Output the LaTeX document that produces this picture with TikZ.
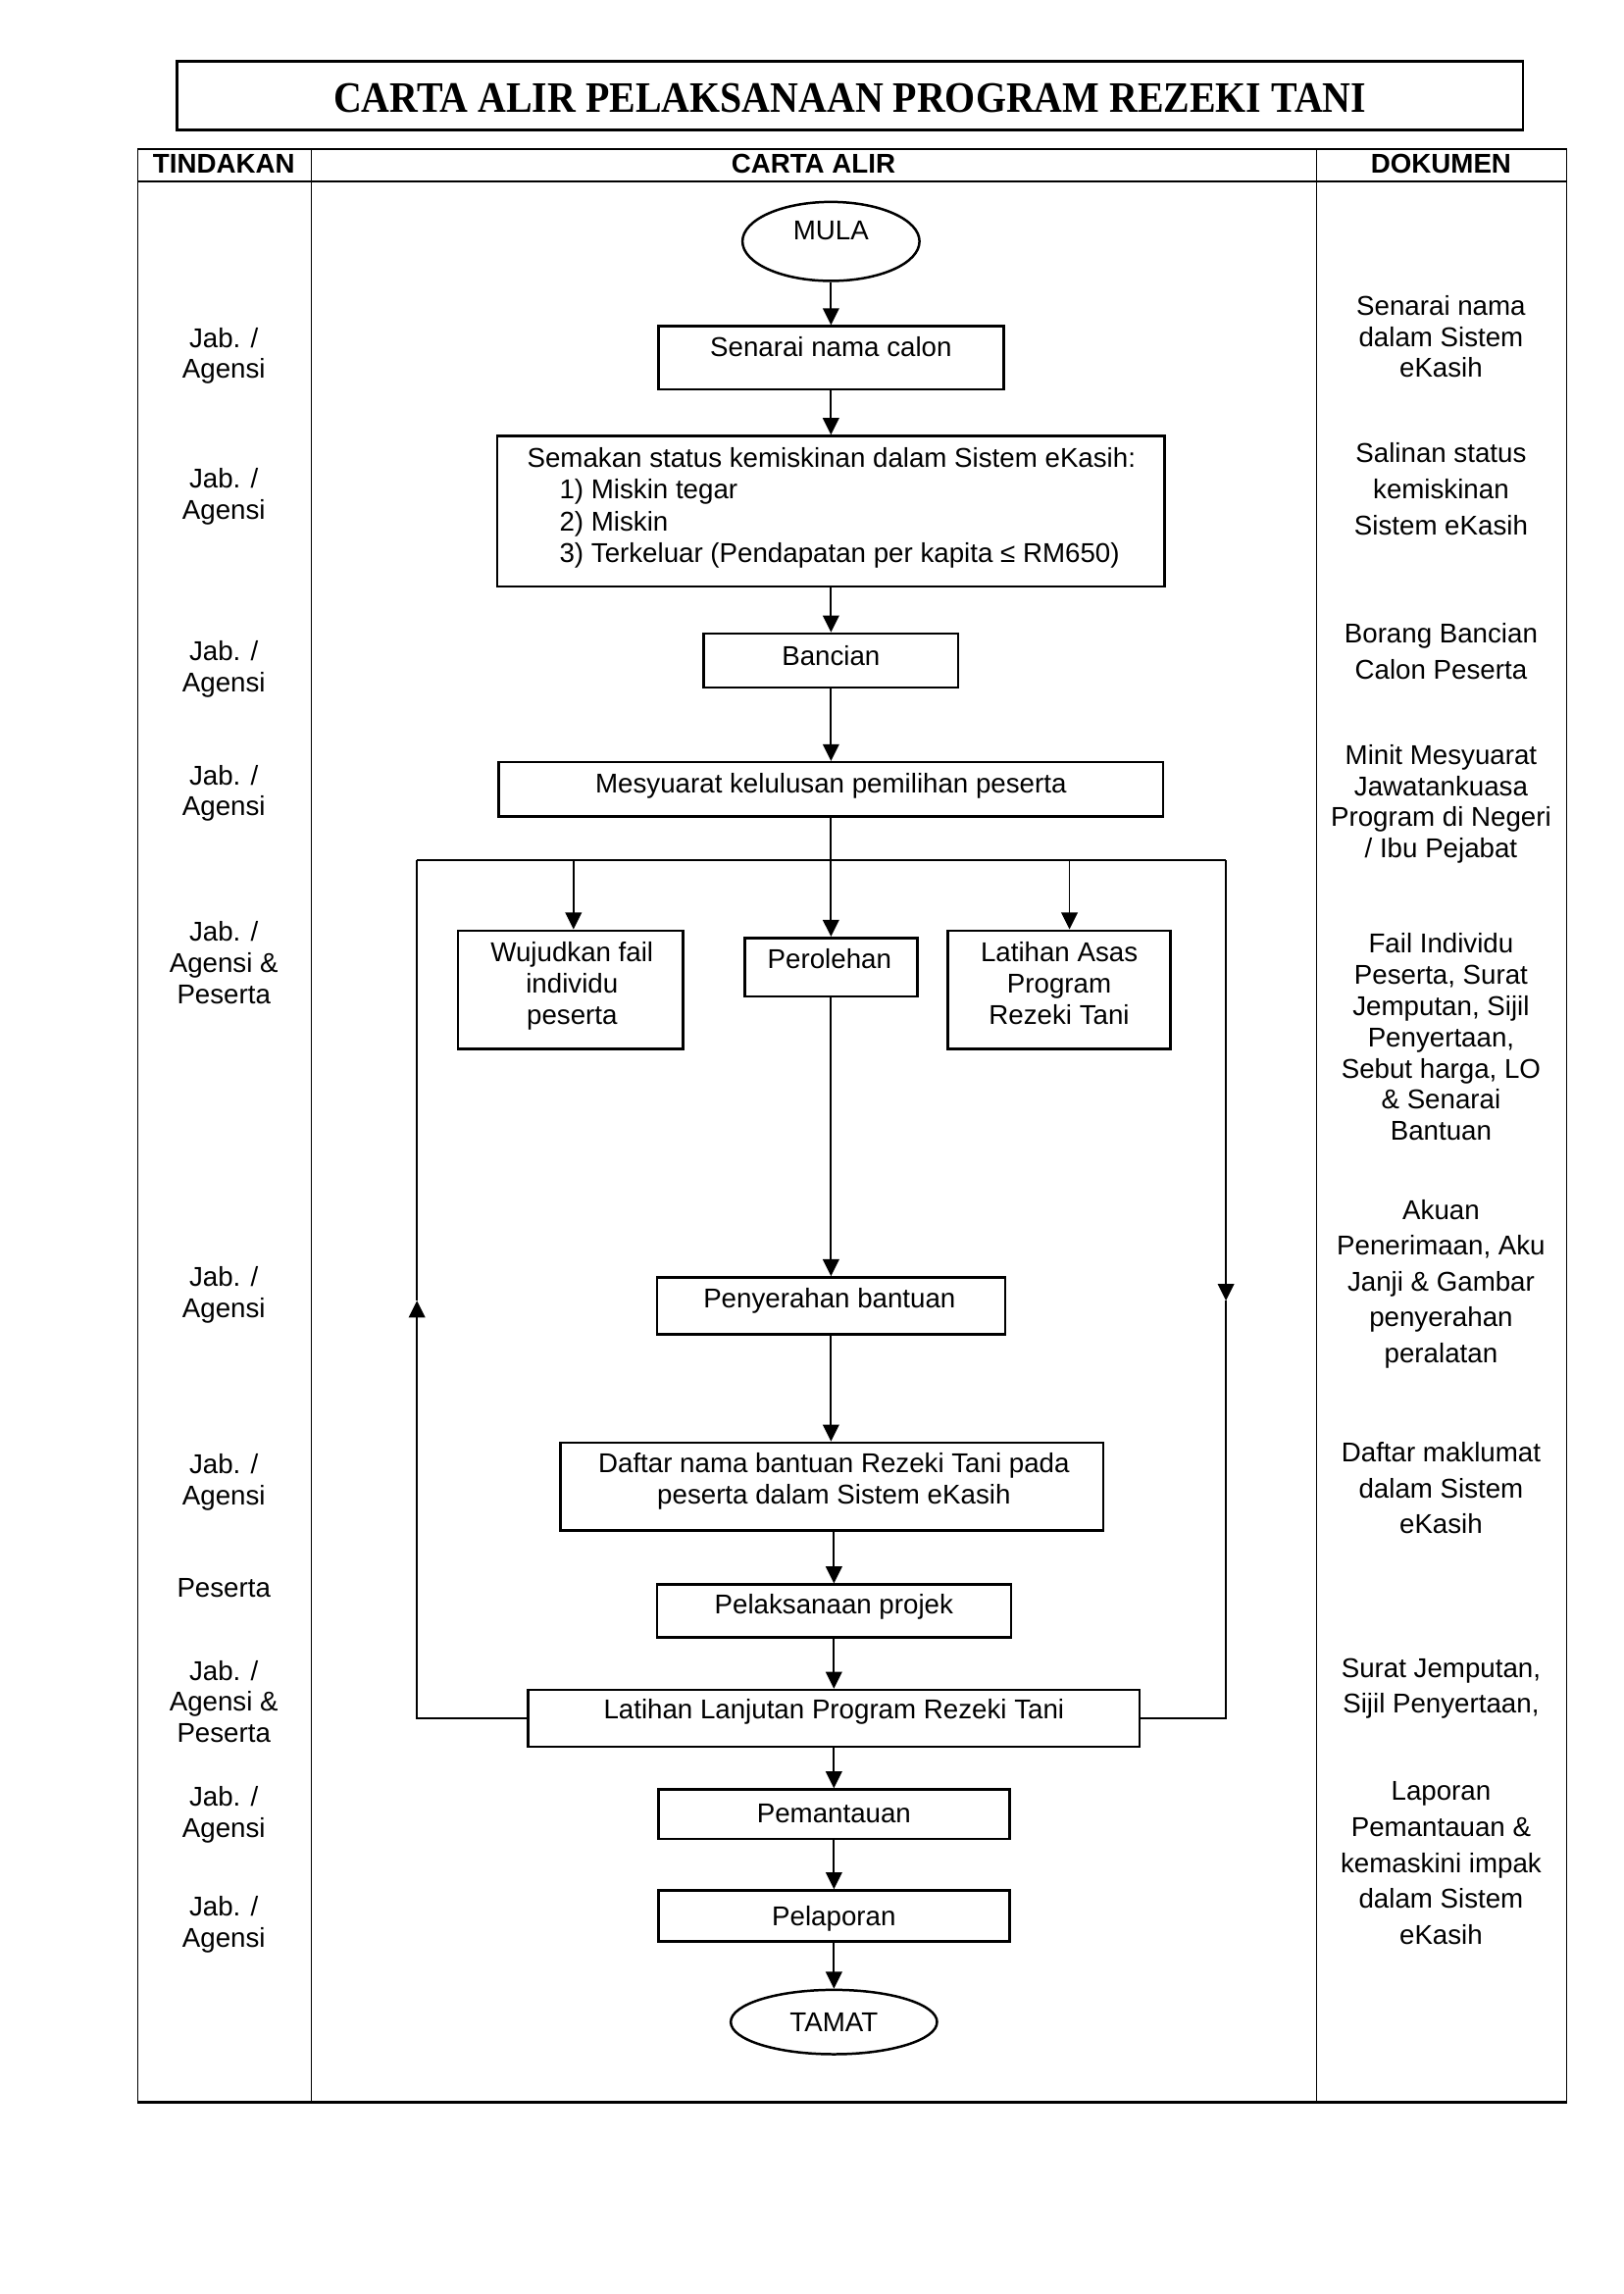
\documentclass[tikz,border=0pt]{standalone}
\usepackage{fontspec}
\usepackage{graphicx}
\setmainfont{Liberation Sans}
\newfontfamily\titlefont{Liberation Serif}
\usetikzlibrary{arrows.meta,shapes.geometric}
\def\upx{0.18929mm}
\def\vpx{0.18929mm}
\newcommand\bx[5]{\node[box,minimum width={(#4-#2)*\upx},minimum height={(#5-#3)*\vpx}] (#1) at ({(#2+#4)/2},{(#3+#5)/2}) {};}
\begin{document}
\begin{tikzpicture}[x=0.18929mm, y=-0.18929mm,
  box/.style={draw, line width=0.9pt, rectangle, inner sep=0pt},
  term/.style={draw, line width=0.9pt, ellipse, inner sep=0pt},
  lbl/.style={inner sep=0pt, anchor=base, font=\fontsize{10}{11.5}\selectfont},
  hdr/.style={inner sep=0pt, anchor=base, font=\bfseries\fontsize{10}{11.5}\selectfont},
  blk/.style={inner sep=0pt, align=center, anchor=north, font=\fontsize{10}{11.5}\selectfont},
  blkw/.style={blk, font=\fontsize{10}{13.2}\selectfont},
  conn/.style={line width=0.7pt},
  arr/.style={conn, -{Triangle[length=6.2pt,width=6pt]}},
  grid/.style={line width=0.5pt},
]
\useasboundingbox (0,0) rectangle (1109.4,1567.9);

% title
\draw[line width=1pt] (121,42) rectangle (1041,89);
\node[inner sep=0pt, anchor=base] (title) at (581,77)
  {\titlefont\bfseries\fontsize{16}{18}\selectfont\scalebox{0.9}[1]{CARTA ALIR PELAKSANAAN PROGRAM REZEKI TANI}};

% table
\draw[grid] (94,102) rectangle (1071,1437);
\draw[line width=1pt] (94,1437) -- (1071,1437);
\draw[grid] (94,124) -- (1071,124);
\draw[grid] (213,102) -- (213,1437);
\draw[grid] (900,102) -- (900,1437);
\node[hdr] (h1) at (153,118) {TINDAKAN};
\node[hdr] (h2) at (556,118) {CARTA ALIR};
\node[hdr] (h3) at (985,118) {DOKUMEN};

% flow nodes
\node[term, minimum width={121*\upx}, minimum height={54*\vpx}] (mula) at (568,165) {};
\node[lbl] (tmula) at (568,163.6) {MULA};
\bx{senarai}{450}{223}{686}{266}
\node[lbl] (tsenarai) at (568,244) {Senarai nama calon};
\bx{semakan}{340}{298}{796}{401}
\node[inner sep=0pt, anchor=north west, align=left, font=\fontsize{10}{11.7}\selectfont] (tsemakan) at (360,305.5)
  {Semakan status kemiskinan dalam Sistem eKasih:\\
   \hspace*{11.9pt}1) Miskin tegar\\
   \hspace*{11.9pt}2) Miskin\\
   \hspace*{11.9pt}3) Terkeluar (Pendapatan per kapita ≤ RM650)};
\bx{bancian}{481}{433}{655}{470}
\node[lbl] (tbancian) at (568,455) {Bancian};
\bx{mesy}{341}{521}{795}{558}
\node[lbl] (tmesy) at (568,542) {Mesyuarat kelulusan pemilihan peserta};
\bx{wuj}{313}{636}{467}{717}
\node[blk] (twuj) at (391,643.5) {Wujudkan fail\\individu\\peserta};
\bx{perol}{509}{641}{627}{681}
\node[lbl] (tperol) at (567,662) {Perolehan};
\bx{latasas}{648}{636}{800}{717}
\node[blk] (tlatasas) at (724,643.5) {Latihan Asas\\Program\\Rezeki Tani};
\bx{pen}{449}{873}{687}{912}
\node[lbl] (tpen) at (567,894) {Penyerahan bantuan};
\bx{daftar}{383}{986}{754}{1046}
\node[blk] (tdaftar) at (570,992.5) {Daftar nama bantuan Rezeki Tani pada\\peserta dalam Sistem eKasih};
\bx{pel}{449}{1083}{691}{1119}
\node[lbl] (tpel) at (570,1103) {Pelaksanaan projek};
\bx{lanj}{361}{1155}{779}{1194}
\node[lbl] (tlanj) at (570,1175) {Latihan Lanjutan Program Rezeki Tani};
\bx{pem}{450}{1223}{690}{1257}
\node[lbl] (tpem) at (570,1246) {Pemantauan};
\bx{plp}{450}{1292}{690}{1327}
\node[lbl] (tplp) at (570,1316) {Pelaporan};
\node[term, minimum width={141*\upx}, minimum height={44*\vpx}] (tamat) at (570,1382) {};
\node[lbl] (ttamat) at (570,1388.6) {TAMAT};

% connectors
\draw[arr] (mula.south) -- (senarai.north);
\draw[arr] (senarai.south) -- (semakan.north);
\draw[arr] (semakan.south) -- (bancian.north);
\draw[arr] (bancian.south) -- (mesy.north);
\draw[arr] (mesy.south) -- (perol.north);
\coordinate (hl) at (285,588);
\coordinate (hr) at (838,588);
\coordinate (bw) at (392,588);
\coordinate (be) at (731,588);
\draw[conn] (hl) -- (hr);
\draw[arr] (bw) -- (bw |- wuj.north);
\draw[arr] (be) -- (be |- latasas.north);
\draw[arr] (perol.south) -- (pen.north);
\draw[arr] (pen.south) -- (pen.south |- daftar.north);
\draw[arr] (daftar.south -| pel.north) -- (pel.north);
\draw[arr] (pel.south) -- (lanj.north);
\draw[arr] (lanj.south) -- (pem.north);
\draw[arr] (pem.south) -- (plp.north);
\draw[arr] (plp.south) -- (tamat.north);
\coordinate (lm) at (285,889);
\coordinate (rm) at (838,889);
\draw[arr] (lanj.west) -- (lanj.west -| hl) -- (lm);
\draw[conn] (lm) -- (hl);
\draw[arr] (hr) -- (rm);
\draw[conn] (rm) -- (rm |- lanj.east) -- (lanj.east);

% TINDAKAN column
\node[blk] (l1) at (153,223.5) {Jab. /\\Agensi};
\node[blk] (l2) at (153,319.5) {Jab. /\\Agensi};
\node[blk] (l3) at (153,437.5) {Jab. /\\Agensi};
\node[blk] (l4) at (153,522.5) {Jab. /\\Agensi};
\node[blk] (l5) at (153,629.5) {Jab. /\\Agensi \&\\Peserta};
\node[blk] (l6) at (153,865.5) {Jab. /\\Agensi};
\node[blk] (l7) at (153,993.5) {Jab. /\\Agensi};
\node[blk] (l8) at (153,1078.5) {Peserta};
\node[blk] (l9) at (153,1134.5) {Jab. /\\Agensi \&\\Peserta};
\node[blk] (l10) at (153,1220.5) {Jab. /\\Agensi};
\node[blk] (l11) at (153,1295.5) {Jab. /\\Agensi};

% DOKUMEN column
\node[blk] (r1) at (985,201.5) {Senarai nama\\dalam Sistem\\eKasih};
\node[blkw] (r2) at (985,302.5) {Salinan status\\kemiskinan\\Sistem eKasih};
\node[blk, font=\fontsize{10}{13.5}\selectfont] (r3) at (985,425.5) {Borang Bancian\\Calon Peserta};
\node[blk] (r4) at (985,508.5) {Minit Mesyuarat\\Jawatankuasa\\Program di Negeri\\/ Ibu Pejabat};
\node[blk] (r5) at (985,637.5) {Fail Individu\\Peserta, Surat\\Jemputan, Sijil\\Penyertaan,\\Sebut harga, LO\\\& Senarai\\Bantuan};
\node[blkw] (r6) at (985,819.5) {Akuan\\Penerimaan, Aku\\Janji \& Gambar\\penyerahan\\peralatan};
\node[blkw] (r7) at (985,985.5) {Daftar maklumat\\dalam Sistem\\eKasih};
\node[blk, font=\fontsize{10}{13}\selectfont] (r8) at (985,1133.5) {Surat Jemputan,\\Sijil Penyertaan,};
\node[blkw] (r9) at (985,1217.5) {Laporan\\Pemantauan \&\\kemaskini impak\\dalam Sistem\\eKasih};
\end{tikzpicture}
\end{document}
